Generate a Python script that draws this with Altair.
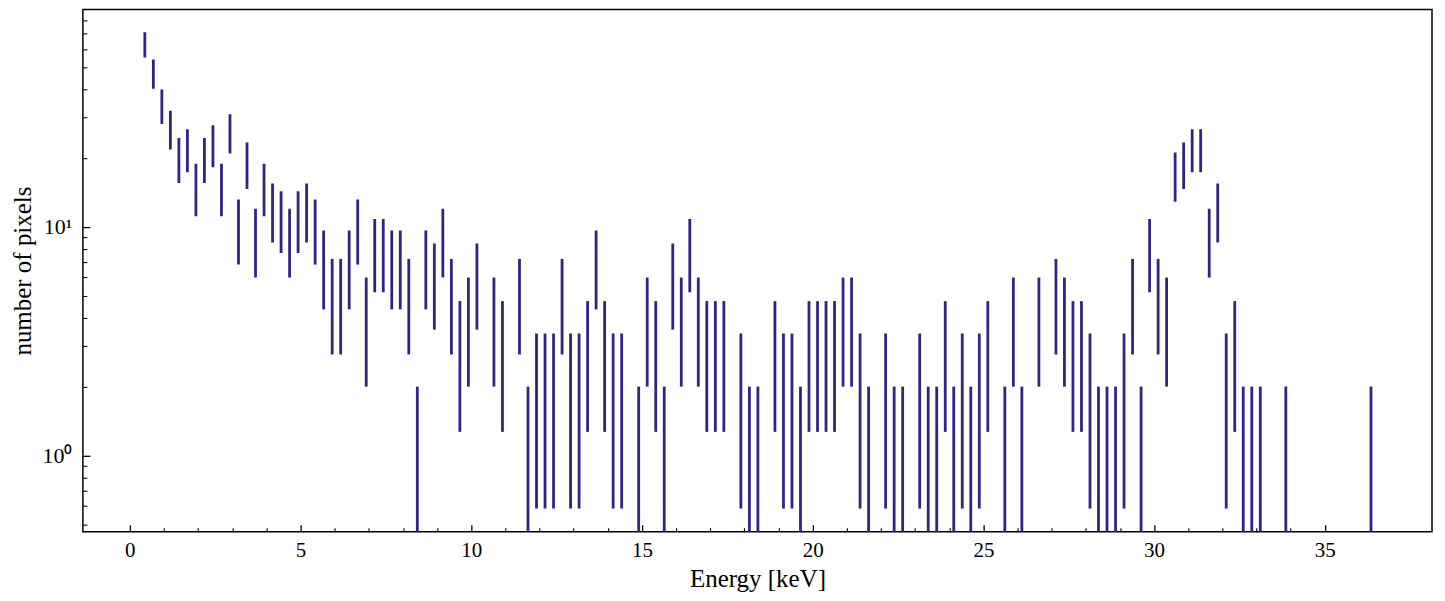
import altair as alt
import pandas as pd

# histogram of pixel energies (counts per bin), bins of equal width
bin_start = 0.439   # keV, centre of the first bin
bin_width = 0.2494  # keV
counts = [63, 47, 34, 27, 20, 22, 15, 20, 23, 15, 26, 10, 19, 9, 15, 12, 11, 9, 11, 12, 10,
          7, 5, 5, 7, 10, 4, 8, 8, 7, 7, 5, 1, 7, 6, 9, 5, 3, 4, 6, 0, 4, 3, 0, 5, 1,
          2, 2, 2, 5, 2, 2, 3, 7, 3, 2, 2, 0, 1, 4, 3, 1, 6, 4, 8, 4, 3, 3, 3, 0, 2, 1,
          1, 0, 3, 2, 2, 1, 3, 3, 3, 3, 4, 4, 2, 1, 0, 2, 1, 1, 0, 2, 1, 1, 3, 1, 2, 1,
          2, 3, 0, 1, 4, 1, 0, 4, 0, 5, 4, 3, 3, 2, 1, 1, 1, 2, 5, 1, 8, 5, 4, 17, 19, 22,
          22, 9, 12, 2, 3, 1, 1, 1, 0, 0, 1, 0, 0, 0, 0, 0, 0, 0, 0, 0, 1]

x_major = [0, 5, 10, 15, 20, 25, 30, 35]
x_minor = [1, 2, 3, 4, 6, 7, 8, 9, 11, 12, 13, 14, 16, 17, 18, 19, 21, 22, 23, 24,
           26, 27, 28, 29, 31, 32, 33, 34]
y_major = [1, 10]
y_minor = [0.5, 0.6, 0.7, 0.8, 0.9, 2, 3, 4, 5, 6, 7, 8, 9, 20, 30, 40, 50, 60, 70, 80]

energies = [round(bin_start + i * bin_width, 4) for i in range(len(counts))]
df = pd.DataFrame({"energy": energies, "count": counts})

COLOR = "#332288"
FONT = "Liberation Serif"

xscale = alt.Scale(domain=[-1.375, 38.14], nice=False, zero=False)
yscale = alt.Scale(type="log", domain=[0.464, 89.3], nice=False)

base = alt.Chart(df).transform_filter("datum.count > 0").transform_calculate(
    lo="max(datum.count - sqrt(datum.count), 0.2)",
    hi="datum.count + sqrt(datum.count)",
)


def layer(xaxis, yaxis, opacity):
    return base.mark_rule(color=COLOR, strokeWidth=2.8, clip=True, opacity=opacity).encode(
        x=alt.X("energy:Q", scale=xscale, axis=xaxis),
        y=alt.Y("lo:Q", scale=yscale, axis=yaxis),
        y2="hi:Q",
    )


main = layer(
    alt.Axis(orient="bottom", values=x_major, ticks=False, domain=False, grid=False,
             labelFont=FONT, labelFontSize=21, labelColor="black", labelPadding=8,
             title="Energy [keV]", titleFont=FONT, titleFontSize=25,
             titleFontWeight="normal", titleColor="black", titlePadding=6),
    alt.Axis(orient="left", values=y_major, ticks=False, domain=False, grid=False,
             labelExpr="datum.value == 1 ? '10⁰' : '10¹'",
             labelFont=FONT, labelFontSize=22, labelColor="black", labelPadding=11,
             title="number of pixels", titleFont=FONT, titleFontSize=25,
             titleFontWeight="normal", titleColor="black", titlePadding=6),
    1,
)

major_ticks = layer(
    alt.Axis(orient="bottom", values=x_major, labels=False, ticks=True, tickSize=7,
             offset=-7, domain=False, grid=False, title="", tickColor="black", tickWidth=1.3),
    alt.Axis(orient="left", values=y_major, labels=False, ticks=True, tickSize=7,
             offset=-7, domain=False, grid=False, title="", tickColor="black", tickWidth=1.3),
    0,
)

minor_ticks = layer(
    alt.Axis(orient="bottom", values=x_minor, labels=False, ticks=True, tickSize=4,
             offset=-4, domain=False, grid=False, title="", tickColor="black", tickWidth=1.1),
    alt.Axis(orient="left", values=y_minor, labels=False, ticks=True, tickSize=4,
             offset=-4, domain=False, grid=False, title="", tickColor="black", tickWidth=1.1),
    0,
)

chart = alt.layer(minor_ticks, major_ticks, main).resolve_axis(
    x="independent", y="independent"
).properties(
    width=1351,
    height=523,
    autosize=alt.AutoSizeParams(type="none"),
    padding={"left": 75, "top": 1, "right": 5, "bottom": 62},
    background="white",
).configure_view(stroke="black", strokeWidth=1.5)

chart.save("out.html", embed_options={"renderer": "svg", "actions": False})
